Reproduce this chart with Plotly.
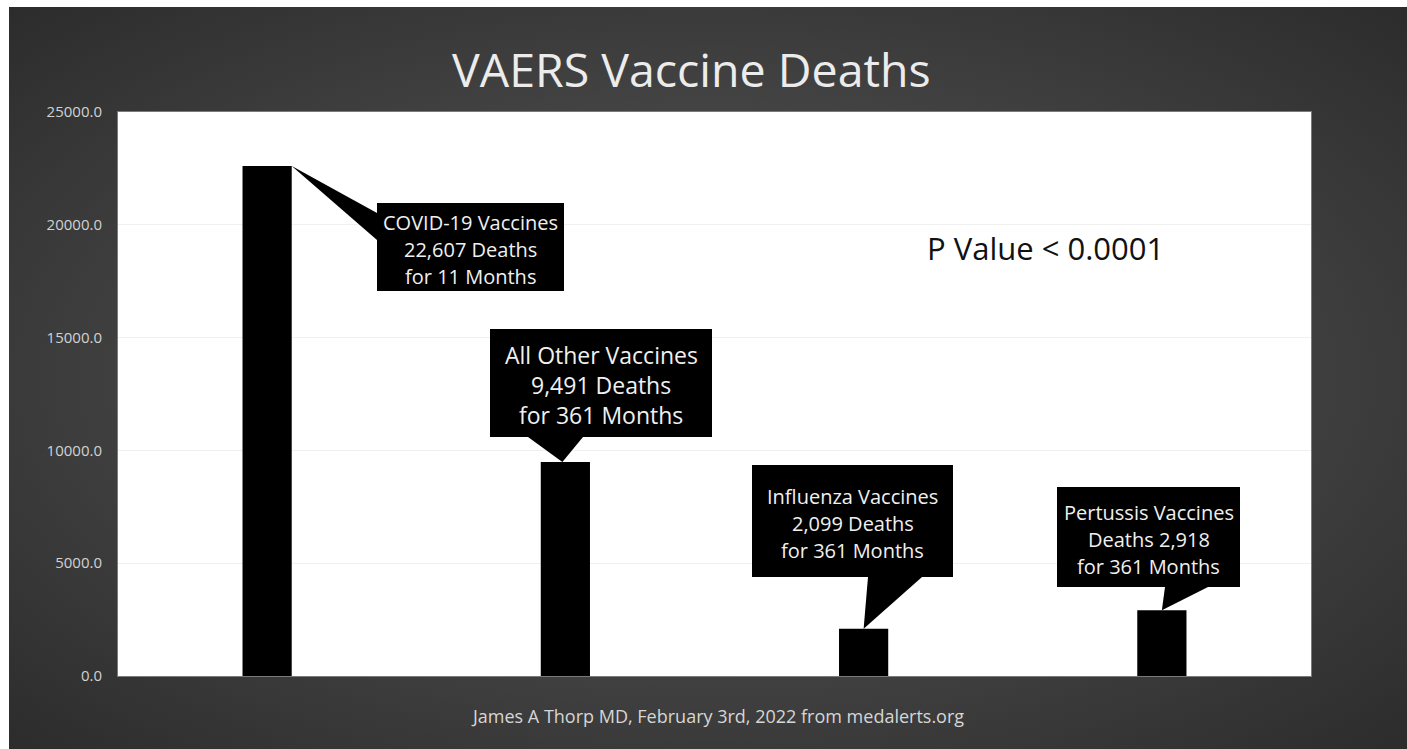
import base64
import plotly.graph_objects as go

# ---- data ----
categories = ["COVID-19 Vaccines", "All Other Vaccines", "Influenza Vaccines", "Pertussis Vaccines"]
deaths = [22607, 9491, 2099, 2918]
label_lines = [
    ["COVID-19 Vaccines", "22,607 Deaths", "for 11 Months"],
    ["All Other Vaccines", "9,491 Deaths", "for 361 Months"],
    ["Influenza Vaccines", "2,099 Deaths", "for 361 Months"],
    ["Pertussis Vaccines", "Deaths 2,918", "for 361 Months"],
]
y_ticks = [0, 5000, 10000, 15000, 20000, 25000]
title_text = "VAERS Vaccine Deaths"
footer_text = "James A Thorp MD, February 3rd, 2022 from medalerts.org"
pvalue_text = "P Value < 0.0001"

# ---- layout geometry (screen pixels; page margin removed) ----
FW, FH = 1407, 749
PL, PT, PR, PB = 118, 112, 1311, 676
PW, PH = PR - PL, PB - PT
YMAX = 25000
CAT_W = PW / len(categories)
BAR_W = 0.165


def dx(px):
    return (px - PL) / CAT_W - 0.5


def dy(py):
    return (PB - py) / PH * YMAX


def pxp(px):
    return (px - PL) / PW


def pyp(py):
    return (PB - py) / PH


FONT = "Open Sans"

fig = go.Figure()
fig.add_trace(go.Bar(x=categories, y=deaths, width=BAR_W,
                     marker=dict(color="#000000", line=dict(width=0)),
                     hoverinfo="skip"))

# background gradient as svg image
svg = f'''<svg xmlns="http://www.w3.org/2000/svg" width="{FW}" height="{FH}" viewBox="0 0 {FW} {FH}" preserveAspectRatio="none">
<defs><radialGradient id="g" cx="0.5" cy="0.5" r="0.72">
<stop offset="0" stop-color="#5c5c5c"/><stop offset="1" stop-color="#2b2b2b"/></radialGradient></defs>
<rect x="0" y="0" width="{FW}" height="{FH}" fill="#ffffff"/>
<rect x="9" y="7" width="{FW-9}" height="{FH-7}" fill="url(#g)"/>
<rect x="{PL-1}" y="{PT-1}" width="{PW+2}" height="{PH+2}" fill="#7a7a7a"/>
<rect x="{PL}" y="{PT}" width="{PW}" height="{PH}" fill="#ffffff"/>
</svg>'''
src = "data:image/svg+xml;base64," + base64.b64encode(svg.encode()).decode()
fig.add_layout_image(dict(source=src, xref="paper", yref="paper",
                          x=-PL / PW, y=1 + PT / PH, sizex=FW / PW, sizey=FH / PH,
                          xanchor="left", yanchor="top", sizing="stretch", layer="below"))

# callout boxes (px): box (left, top, right, bottom), tail base points
boxes = [
    dict(box=(377, 203, 564, 291), base=[(377, 213), (377, 240)], tip_dx=BAR_W / 2, lh=27, size=20),
    dict(box=(490, 329, 712, 437), base=[(528, 437), (583, 437)], tip_dx=-0.01, lh=30, size=23),
    dict(box=(752, 465, 953, 577), base=[(868, 577), (922, 577)], tip_dx=0.0, lh=27, size=20),
    dict(box=(1057, 487, 1240, 587), base=[(1165, 587), (1208, 587)], tip_dx=0.0, lh=27, size=20),
]

for i, b in enumerate(boxes):
    l, t, r, bt = b["box"]
    fig.add_shape(type="rect", xref="x", yref="y", x0=dx(l), x1=dx(r), y0=dy(bt), y1=dy(t),
                  fillcolor="#000000", line=dict(width=0), layer="above")
    (bx1, by1), (bx2, by2) = b["base"]
    tipx = i + b["tip_dx"]
    tipy = deaths[i]
    path = f"M {dx(bx1)},{dy(by1)} L {tipx},{tipy} L {dx(bx2)},{dy(by2)} Z"
    fig.add_shape(type="path", xref="x", yref="y", path=path,
                  fillcolor="#000000", line=dict(width=0), layer="above")
    cx = (l + r) / 2
    cy = (t + bt) / 2 + 2
    n = len(label_lines[i])
    for j, line in enumerate(label_lines[i]):
        py = cy + (j - (n - 1) / 2) * b["lh"]
        fig.add_annotation(x=dx(cx), y=dy(py), xref="x", yref="y", text=line, showarrow=False,
                           font=dict(family=FONT, size=b["size"], color="#f0f0f0"),
                           xanchor="center", yanchor="middle")

fig.add_annotation(x=pxp(1045), y=pyp(248), xref="paper", yref="paper", text=pvalue_text,
                   showarrow=False, font=dict(family=FONT, size=31, color="#111111"),
                   xanchor="center", yanchor="middle")

fig.add_annotation(x=pxp(691), y=pyp(69), xref="paper", yref="paper",
                   text=title_text, showarrow=False,
                   font=dict(family=FONT, size=46.5, color="#ececec"), xanchor="center", yanchor="middle")

fig.add_annotation(x=pxp(717), y=pyp(716), xref="paper", yref="paper",
                   text=footer_text, showarrow=False,
                   font=dict(family=FONT, size=18, color="#d6d6d6"), xanchor="center", yanchor="middle")

fig.update_layout(
    width=FW, height=FH,
    margin=dict(l=PL, r=FW - PR, t=PT, b=FH - PB, pad=0),
    paper_bgcolor="#2b2b2b", plot_bgcolor="rgba(0,0,0,0)",
    showlegend=False, bargap=0.8,
    xaxis=dict(type="category", range=[-0.5, len(categories) - 0.5], showticklabels=False,
               showgrid=False, zeroline=False, showline=False, ticks="", fixedrange=True),
    yaxis=dict(range=[0, YMAX], tickvals=y_ticks, tickformat=".1f", showgrid=True,
               gridcolor="#f0f0f0", gridwidth=1, zeroline=False, showline=False, ticks="",
               ticklabelstandoff=15,
               tickfont=dict(family=FONT, size=15, color="#d2d2d2"), fixedrange=True),
)

fig.write_html("out.html", config={"displayModeBar": False},
               post_script="document.body.style.margin='0';document.body.style.overflow='hidden';")
